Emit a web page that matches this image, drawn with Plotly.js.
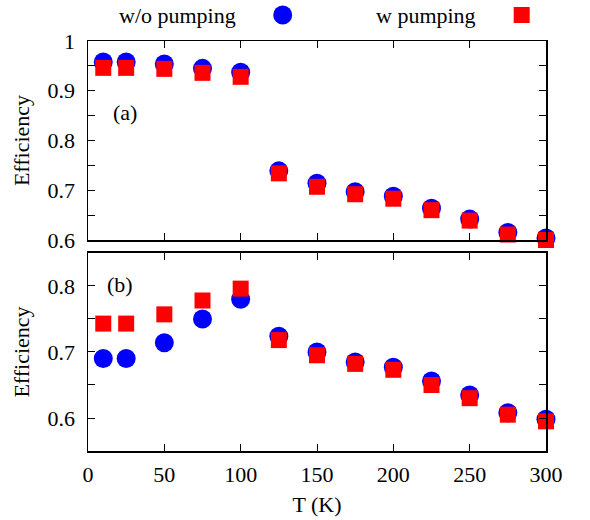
<!DOCTYPE html>
<html>
<head>
<meta charset="utf-8">
<script src="https://cdn.plot.ly/plotly-3.0.1.min.js"></script>
<style>html,body{margin:0;padding:0;background:#fff;}#chart{width:590px;height:520px;}</style>
</head>
<body>
<div id="chart"></div>
<script>
// Temperatures (K)
var temps = [10, 25, 50, 75, 100, 125, 150, 175, 200, 225, 250, 275, 300];
// Panel (a)
var effA_noPump = [0.958, 0.958, 0.954, 0.945, 0.937, 0.739, 0.714, 0.697, 0.688, 0.664, 0.642, 0.615, 0.604];
var effA_pump   = [0.946, 0.946, 0.944, 0.936, 0.928, 0.734, 0.707, 0.692, 0.683, 0.660, 0.639, 0.611, 0.600];
// Panel (b)
var effB_noPump = [0.690, 0.690, 0.714, 0.750, 0.780, 0.724, 0.700, 0.685, 0.677, 0.656, 0.635, 0.608, 0.598];
var effB_pump   = [0.743, 0.743, 0.757, 0.778, 0.796, 0.718, 0.695, 0.682, 0.673, 0.650, 0.630, 0.605, 0.595];
// Tick labels
var xTicks = [0, 50, 100, 150, 200, 250, 300];
var yTicksA = [0.6, 0.7, 0.8, 0.9, 1];
var yTicksALabels = ['0.6', '0.7', '0.8', '0.9', '1'];
var yTicksB = [0.6, 0.7, 0.8];
var yTicksBLabels = ['0.6', '0.7', '0.8'];
var legendNames = ['w/o pumping', 'w pumping'];

var FONT = 'Liberation Serif';
var BLUE = '#0000ff', RED = '#ff0000';

function mk(y, name, color, symbol, size, xa, ya) {
  return {x: temps, y: y, name: name, type: 'scatter', mode: 'markers', xaxis: xa, yaxis: ya,
    cliponaxis: false, showlegend: false,
    marker: {color: color, symbol: symbol, size: size, line: {width: 0}}};
}

var data = [
  mk(effA_noPump, legendNames[0], BLUE, 'circle', 19, 'x2', 'y2'),
  mk(effA_pump, legendNames[1], RED, 'square', 16, 'x2', 'y2'),
  mk(effB_noPump, legendNames[0], BLUE, 'circle', 19, 'x', 'y'),
  mk(effB_pump, legendNames[1], RED, 'square', 16, 'x', 'y')
];

var axBase = {
  showline: true, linecolor: '#000', linewidth: 1.5, mirror: 'ticks',
  ticks: 'inside', ticklen: 7, tickwidth: 1, tickcolor: '#000',
  showgrid: false, zeroline: false,
  tickfont: {family: FONT, size: 22, color: '#000'}
};
function ax(extra) { return Object.assign({}, JSON.parse(JSON.stringify(axBase)), extra); }

var layout = {
  width: 590, height: 520,
  margin: {l: 88, r: 44, t: 41, b: 69},
  paper_bgcolor: '#fff', plot_bgcolor: '#fff',
  font: {family: FONT, size: 22, color: '#000'},
  showlegend: false,
  xaxis: ax({anchor: 'y', range: [0, 300], tickvals: xTicks, ticktext: xTicks.map(String), ticklabelstandoff: 3,
    title: {text: 'T (K)', font: {family: FONT, size: 22}, standoff: 10}}),
  xaxis2: ax({anchor: 'y2', matches: 'x', range: [0, 300], tickvals: xTicks, showticklabels: false}),
  yaxis: ax({domain: [0, 0.483], anchor: 'x', range: [0.55, 0.85], tickvals: yTicksB, ticktext: yTicksBLabels,
    ticklabelstandoff: 7,
    minor: {dtick: 0.05, tick0: 0.55, ticks: 'inside', ticklen: 7, tickwidth: 1, tickcolor: '#000'},
    title: {text: 'Efficiency', font: {family: FONT, size: 22}, standoff: 12}}),
  yaxis2: ax({domain: [0.5146, 1], anchor: 'x2', range: [0.6, 1.0], tickvals: yTicksA, ticktext: yTicksALabels,
    ticklabelstandoff: 7,
    minor: {dtick: 0.05, tick0: 0.6, ticks: 'inside', ticklen: 7, tickwidth: 1, tickcolor: '#000'},
    title: {text: 'Efficiency', font: {family: FONT, size: 22}, standoff: 12}}),
  annotations: [
    {xref: 'x2', yref: 'y2', x: 24.2, y: 0.857, text: '(a)', showarrow: false, font: {family: FONT, size: 22}},
    {xref: 'x', yref: 'y', x: 21, y: 0.8015, text: '(b)', showarrow: false, font: {family: FONT, size: 22}},
    {xref: 'paper', yref: 'paper', x: 0.195, y: 1.063, text: legendNames[0], showarrow: false,
      xanchor: 'center', yanchor: 'middle', font: {family: FONT, size: 22}},
    {xref: 'paper', yref: 'paper', x: 0.738, y: 1.063, text: legendNames[1], showarrow: false,
      xanchor: 'center', yanchor: 'middle', font: {family: FONT, size: 22}}
  ],
  shapes: [
    {type: 'circle', xref: 'paper', yref: 'paper', xsizemode: 'pixel', ysizemode: 'pixel',
      xanchor: (282.7 - 88) / 458, yanchor: 1 + 26 / 410, x0: -9.5, x1: 9.5, y0: -9.5, y1: 9.5,
      fillcolor: BLUE, line: {width: 0}},
    {type: 'rect', xref: 'paper', yref: 'paper', xsizemode: 'pixel', ysizemode: 'pixel',
      xanchor: (521.7 - 88) / 458, yanchor: 1 + 26 / 410, x0: -8, x1: 8, y0: -8, y1: 8,
      fillcolor: RED, line: {width: 0}}
  ]
};

Plotly.newPlot('chart', data, layout, {staticPlot: true, displayModeBar: false});
</script>
</body>
</html>
